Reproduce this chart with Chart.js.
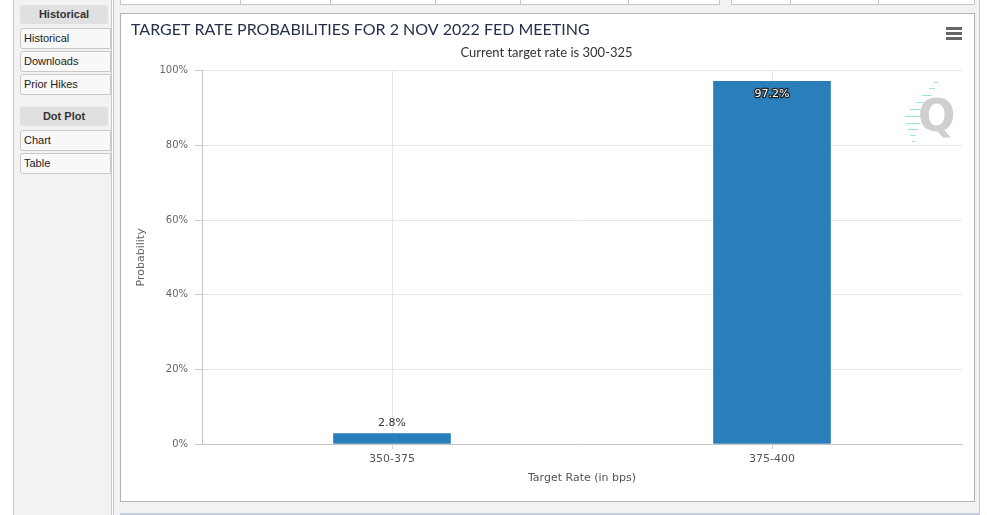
<!DOCTYPE html>
<html>
<head>
<meta charset="utf-8">
<script src="https://cdn.jsdelivr.net/npm/chart.js@4.4.0/dist/chart.umd.min.js"></script>
<style>
  html, body { margin: 0; padding: 0; }
  body { width: 987px; height: 515px; overflow: hidden; position: relative; background: #fff;
         font-family: "Liberation Sans", Arial, sans-serif; }
  .abs { position: absolute; box-sizing: border-box; }
  #side { left: 13px; top: 0; width: 99px; height: 515px; background: #f2f2f2;
          border-left: 1px solid #c8c8c8; border-right: 1px solid #c8c8c8; }
  #main { left: 113px; top: 0; width: 867px; height: 515px; background: #f2f2f2;
          border-left: 1px solid #c8c8c8; border-right: 1px solid #c8c8c8; }
  .hdr { left: 20px; width: 88px; height: 19px; background: #e0e0e0; border-radius: 3px;
         font-size: 11px; font-weight: bold; color: #333; text-align: center; line-height: 19px; }
  .item { left: 20px; width: 91px; height: 21px; background: #f8f8f8; border: 1px solid #c8c8c8;
          border-radius: 3px 0 0 3px; font-size: 11px; color: #222; line-height: 19px; padding-left: 3px; }
  .tabs { top: -20px; height: 25px; border: 1px solid #c8c8c8; background: #fff; }
  .div { top: 0; width: 1px; height: 5px; background: #c8c8c8; }
  #panel { left: 120px; top: 13px; width: 855px; height: 489px; background: #fff; border: 1px solid #b4b4b4; }
  #below { left: 120px; top: 513px; width: 860px; height: 2px; background: #c9cde0; }
  #wrap { left: 121px; top: 14px; width: 852px; height: 486px; }
  .burger { left: 946px; width: 16px; height: 3px; background: #666; }
  #logo { left: 918px; top: 86px; width: 40px; height: 60px; font-family: "DejaVu Sans", sans-serif;
          font-weight: bold; font-size: 44px; color: #cfcfcf; line-height: 60px; }
  .dash { height: 1px; background: #9fe0ec; }
</style>
</head>
<body>
<div class="abs" id="side"></div>
<div class="abs" id="main"></div>

<div class="abs hdr" style="top:5px">Historical</div>
<div class="abs item" style="top:28px">Historical</div>
<div class="abs item" style="top:51px">Downloads</div>
<div class="abs item" style="top:74px">Prior Hikes</div>
<div class="abs hdr" style="top:107px">Dot Plot</div>
<div class="abs item" style="top:130px">Chart</div>
<div class="abs item" style="top:153px">Table</div>

<div class="abs tabs" style="left:120px;width:600px"></div>
<div class="abs tabs" style="left:731px;width:244px"></div>
<div class="abs div" style="left:240px"></div>
<div class="abs div" style="left:330px"></div>
<div class="abs div" style="left:435px"></div>
<div class="abs div" style="left:520px"></div>
<div class="abs div" style="left:628px"></div>
<div class="abs div" style="left:790px"></div>
<div class="abs div" style="left:878px"></div>

<div class="abs" id="panel"></div>
<div class="abs" id="below"></div>

<div class="abs" id="wrap"><canvas id="chart"></canvas></div>

<div class="abs burger" style="top:27px"></div>
<div class="abs burger" style="top:32px"></div>
<div class="abs burger" style="top:37px"></div>

<div class="abs dash" style="left:934px;top:82px;width:4px"></div>
<div class="abs dash" style="left:929px;top:88px;width:6px"></div>
<div class="abs dash" style="left:922px;top:95px;width:10px"></div>
<div class="abs dash" style="left:916px;top:102px;width:13px"></div>
<div class="abs dash" style="left:910px;top:109px;width:15px"></div>
<div class="abs dash" style="left:905px;top:116px;width:17px"></div>
<div class="abs dash" style="left:906px;top:123px;width:14px"></div>
<div class="abs dash" style="left:908px;top:129px;width:10px"></div>
<div class="abs dash" style="left:910px;top:135px;width:6px"></div>
<div class="abs dash" style="left:912px;top:141px;width:3px"></div>
<div class="abs" id="logo">Q</div>

<script>
const categories = ['350-375', '375-400'];
const probabilities = [2.8, 97.2];
const yTicks = [0, 20, 40, 60, 80, 100];

const TICK_FONT = { family: 'DejaVu Sans', size: 10 };

// value labels like the original: above short bars, inside (outlined) for tall ones
const barLabels = {
  id: 'barLabels',
  afterDatasetsDraw(chart) {
    const ctx = chart.ctx;
    const meta = chart.getDatasetMeta(0);
    ctx.save();
    ctx.font = '11px "DejaVu Sans"';
    ctx.textAlign = 'center';
    meta.data.forEach((bar, i) => {
      const v = probabilities[i];
      const txt = v.toFixed(1) + '%';
      if (v > 90) {
        ctx.textBaseline = 'top';
        ctx.lineWidth = 2.5;
        ctx.strokeStyle = '#222';
        ctx.lineJoin = 'round';
        ctx.strokeText(txt, bar.x, bar.y + 7);
        ctx.fillStyle = '#fff';
        ctx.fillText(txt, bar.x, bar.y + 7);
      } else {
        ctx.textBaseline = 'bottom';
        ctx.fillStyle = '#333';
        ctx.fillText(txt, bar.x, bar.y - 5);
      }
    });
    ctx.restore();
  }
};

new Chart(document.getElementById('chart'), {
  type: 'bar',
  data: {
    labels: categories,
    datasets: [{
      data: probabilities,
      backgroundColor: '#2a7fba',
      borderWidth: 0,
      barThickness: 117
    }]
  },
  options: {
    responsive: true,
    maintainAspectRatio: false,
    animation: false,
    layout: { padding: { left: 10, right: 11, top: 0, bottom: 0 } },
    plugins: {
      legend: { display: false },
      tooltip: { enabled: false },
      title: {
        display: true,
        text: 'TARGET RATE PROBABILITIES FOR 2 NOV 2022 FED MEETING',
        align: 'start',
        color: '#26304a',
        font: { family: 'Lato', size: 16, weight: 'normal' },
        padding: { top: 6, bottom: 6 }
      },
      subtitle: {
        display: true,
        text: 'Current target rate is 300-325',
        color: '#333',
        font: { family: 'Lato', size: 13 },
        padding: { top: 0, bottom: 10 }
      }
    },
    scales: {
      x: {
        afterFit: s => { s.height = 56; },
        grid: { offset: false, color: '#e6e6e6', tickColor: '#d0d0d0', tickLength: 5 },
        border: { color: '#c4c4c4' },
        ticks: { color: '#555', font: { family: 'DejaVu Sans', size: 11 }, padding: 4 },
        title: {
          display: true, text: 'Target Rate (in bps)', color: '#555',
          font: { family: 'DejaVu Sans', size: 11 }, padding: { top: 0, bottom: 15 }
        }
      },
      y: {
        min: 0, max: 100,
        afterFit: s => { s.width = 71; },
        afterBuildTicks: s => { s.ticks = yTicks.map(v => ({ value: v })); },
        grid: { color: '#e6e6e6', tickColor: '#d0d0d0', tickLength: 7 },
        border: { color: '#c4c4c4' },
        ticks: { color: '#666', font: TICK_FONT, padding: 7, callback: v => v + '%' },
        title: {
          display: true, text: 'Probability', color: '#666',
          font: { family: 'DejaVu Sans', size: 11 }, padding: { top: 4, bottom: 0 }
        }
      }
    }
  },
  plugins: [barLabels]
});
</script>
</body>
</html>
